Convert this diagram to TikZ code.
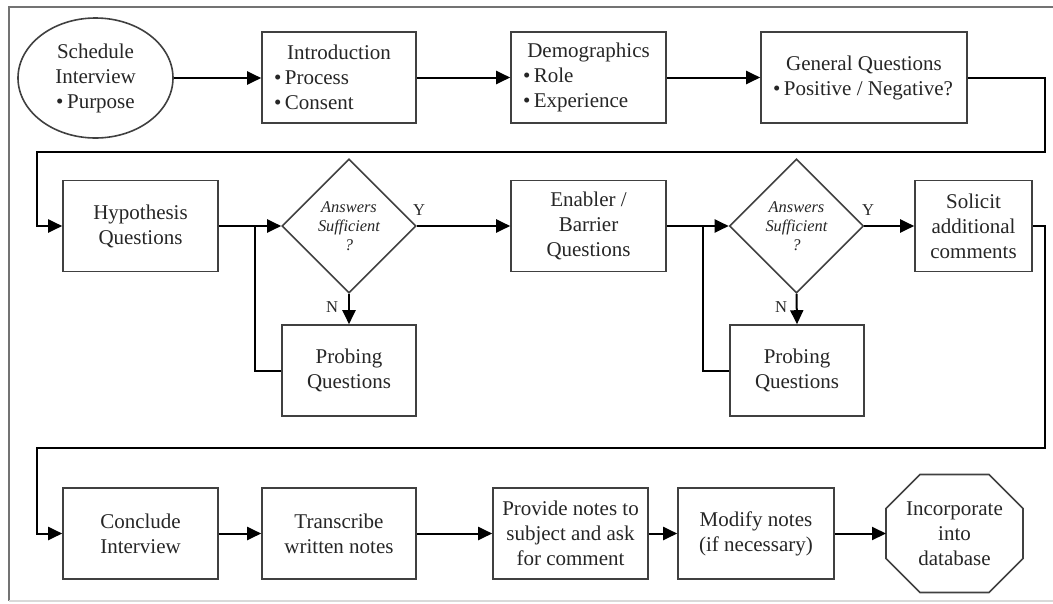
\documentclass[tikz,border=0pt]{standalone}
\usepackage{fontspec}
\setmainfont{Liberation Serif}
\usetikzlibrary{shapes.geometric,arrows.meta,calc}
\newcommand{\itm}[1]{\textbullet\,#1}

\begin{document}
\begin{tikzpicture}[x=1pt,y=-1pt,
  every node/.style={font=\rmfamily\fontsize{21}{25}\selectfont, text=black!85},
  box/.style={draw=black!75, line width=1.6pt, rectangle, minimum height=91pt, inner sep=0pt},
  startnode/.style={draw=black!75, line width=1.6pt, ellipse, inner sep=0pt, align=center},
  decision/.style={draw=black!75, line width=1.6pt, diamond, minimum width=134pt,
    minimum height=134pt, inner sep=0pt, align=center,
    font=\rmfamily\fontsize{16.4}{19}\selectfont\itshape},
  flow/.style={line width=2pt, draw=black},
  arr/.style={flow, -{Triangle[length=14pt,width=13pt]}},
  yn/.style={font=\rmfamily\fontsize{16.6}{20}\selectfont, inner sep=0pt},
  frame/.style={line width=2pt, draw=black!55}]

\useasboundingbox (0,0) rectangle (1053,603);

% outer frame
\draw[frame] (1053,7) -- (9,7) -- (9,601);
\draw[line width=1.5pt, draw=black!15] (9,601) -- (1053,601);

% top row
\node[startnode, minimum width=155pt, minimum height=120pt] (sched) at (95.5,78)
  {Schedule\\Interview\\\itm{Purpose}};
\node[box, minimum width=154pt, align=left] (intro) at (339,77.5)
  {\makebox[130pt]{Introduction}\\\itm{Process}\\\itm{Consent}};
\node[box, minimum width=155pt, align=left] (demo) at (588.5,77.5)
  {\makebox[131pt]{Demographics}\\\itm{Role}\\\itm{Experience}};
\node[box, minimum width=206pt, align=left] (gen) at (864,77.5)
  {\makebox[182pt]{General Questions}\\\itm{Positive / Negative?}};

% middle row
\node[box, minimum width=155pt, align=center] (hyp) at (140.5,226) {Hypothesis\\Questions};
\node[decision] (d1) at (349,226) {Answers\\Sufficient\\?};
\node[box, minimum width=155pt, align=center] (enab) at (588.5,226) {Enabler /\\Barrier\\Questions};
\node[decision] (d2) at (796.5,226) {Answers\\Sufficient\\?};
\node[box, minimum width=117pt, align=center] (sol) at (973.5,226) {Solicit\\additional\\comments};
\node[box, minimum width=134pt, align=center] (p1) at (349,370.5) {Probing\\Questions};
\node[box, minimum width=134pt, align=center] (p2) at (797,370.5) {Probing\\Questions};

% bottom row
\node[box, minimum width=155pt, align=center] (conc) at (140.5,533.5) {Conclude\\Interview};
\node[box, minimum width=154pt, align=center] (trans) at (339,533.5) {Transcribe\\written notes};
\node[box, minimum width=155pt, align=center] (prov) at (570.5,533.5) {Provide notes to\\subject and ask\\for comment};
\node[box, minimum width=156pt, align=center] (mod) at (756,533.5) {Modify notes\\(if necessary)};
\node[rectangle, draw=none, outer sep=0pt, minimum width=137pt, minimum height=118pt,
  align=center, inner sep=0pt] (oct) at (954.5,533.5) {Incorporate\\into\\database};
\draw[draw=black!75, line width=1.6pt]
  ($(oct.north west)+(0,34)$) -- ($(oct.north west)+(34,0)$) --
  ($(oct.north east)+(-34,0)$) -- ($(oct.north east)+(0,34)$) --
  ($(oct.south east)+(0,-34)$) -- ($(oct.south east)+(-34,0)$) --
  ($(oct.south west)+(34,0)$) -- ($(oct.south west)+(0,-34)$) -- cycle;

% routing points
\coordinate (r1) at (1045,152);
\coordinate (l1) at (37,152);
\coordinate (r2) at (1045,448);
\coordinate (l2) at (37,448);
\coordinate (j1) at (255,226);
\coordinate (j2) at (703,226);

% connectors
\draw[arr] (sched.east) -- (sched.east -| intro.west);
\draw[arr] (intro.east) -- (demo.west);
\draw[arr] (demo.east) -- (gen.west);
\draw[arr] (gen.east) -| (r1) -- (l1) |- (hyp.west);

\draw[arr] (hyp.east) -- (d1.west);
\draw[arr] (d1.east) -- (enab.west);
\draw[arr] (d1.south) -- (p1.north);
\draw[flow] (p1.west) -| (j1);
\node[yn] (y1) at (419,210) {Y};
\node[yn] (n1) at (332,307) {N};

\draw[arr] (enab.east) -- (d2.west);
\draw[arr] (d2.east) -- (sol.west);
\draw[arr] (d2.south) -- (p2.north);
\draw[flow] (p2.west) -| (j2);
\node[yn] (y2) at (868,210) {Y};
\node[yn] (n2) at (781,307) {N};

\draw[arr] (sol.east) -| (r2) -- (l2) |- (conc.west);
\draw[arr] (conc.east) -- (trans.west);
\draw[arr] (trans.east) -- (prov.west);
\draw[arr] (prov.east) -- (mod.west);
\draw[arr] (mod.east) -- (oct.west);
\end{tikzpicture}
\end{document}
